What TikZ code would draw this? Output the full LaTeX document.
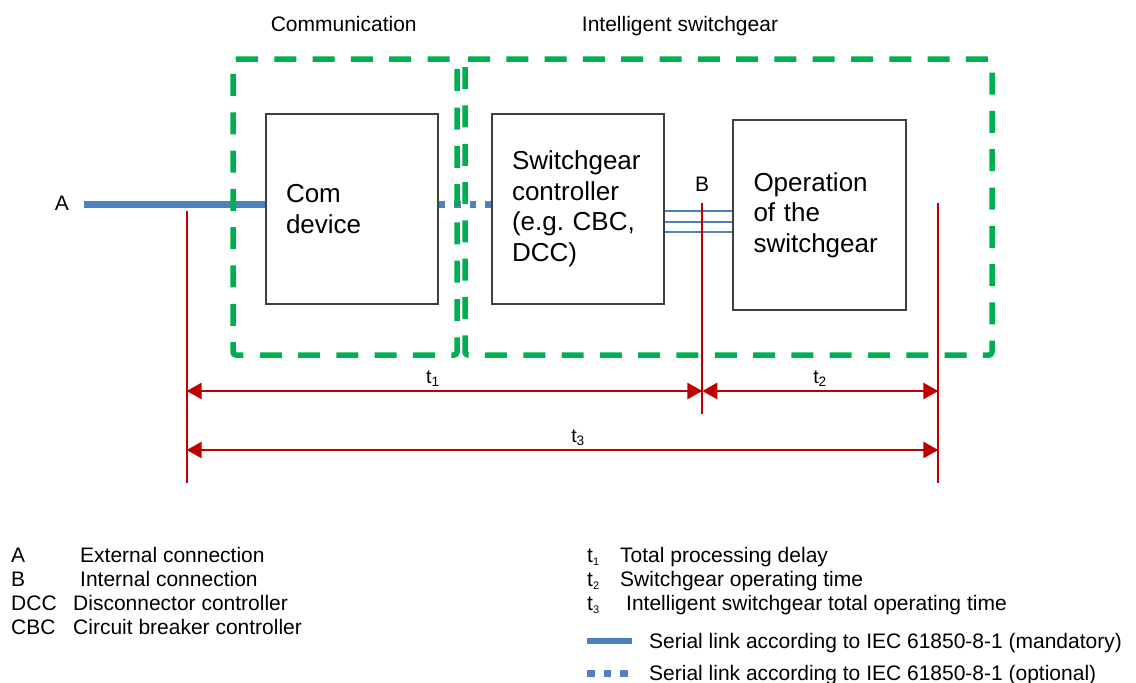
\documentclass[tikz,border=0pt]{standalone}
\usepackage{fontspec}
\setmainfont{Liberation Sans}
\usetikzlibrary{arrows.meta}
\definecolor{grn}{HTML}{00B050}
\definecolor{lblue}{HTML}{4F81BD}
\definecolor{dred}{HTML}{C00000}
\definecolor{boxgray}{HTML}{404040}
\frenchspacing
\newcommand{\lsub}[1]{\raisebox{-3pt}{\fontsize{11}{11}\selectfont #1}}
\begin{document}
\begin{tikzpicture}[x=1pt,y=-1pt,
  box/.style={draw=boxgray, line width=1.5pt, fill=white, minimum width=172pt, minimum height=190pt, text width=132pt, inner xsep=20pt, inner ysep=0pt, align=left, font=\fontsize{26}{30.5}\selectfont},
  grp/.style={draw=grn, line width=5.5pt, dash pattern=on 22pt off 16.3pt, rounded corners=3pt},
  lbl/.style={inner sep=0pt, anchor=base, font=\fontsize{21}{24}\selectfont},
  leg/.style={inner sep=0pt, anchor=base west, font=\fontsize{21}{24}\selectfont},
  tlbl/.style={inner sep=0pt, anchor=base, font=\fontsize{19.5}{22}\selectfont},
  mandlink/.style={draw=lblue, line width=7pt},
  optlink/.style={draw=lblue, line width=7pt, dash pattern=on 6.5pt off 9pt},
  thinb/.style={draw=lblue, line width=2pt},
  redtick/.style={draw=dred, line width=1.8pt},
  dimarrow/.style={draw=dred, line width=2.8pt, {Triangle[length=15pt,width=16pt]}-{Triangle[length=15pt,width=16pt]}},
]
\useasboundingbox (0,0) rectangle (1136,683);

% top labels
\node[lbl] (commlbl) at (343.7,31.7) {Communication};
\node[lbl] (intlbl) at (680,31.7) {Intelligent switchgear};

% boxes
\node[box] (com) at (352,209) {Com\\device};
\node[box] (ctrl) at (578,209) {Switchgear\\controller\\(e.g. CBC,\\DCC)};
\node[box, minimum width=173pt] (op) at (819.5,215) {Operation\\of the\\switchgear};

% connection labels
\node[lbl] (lblA) at (62,210) {A};
\node[lbl] (lblB) at (702,191.7) {B};

% links
\coordinate (aend) at (84,204);
\draw[mandlink] (aend) -- (aend -| com.west);
\draw[optlink] (com.east |- aend) -- (ctrl.west |- aend);
\coordinate (b1) at (0,210.7);
\coordinate (b2) at (0,222.3);
\coordinate (b3) at (0,232.3);
\draw[thinb] (ctrl.east |- b1) -- (op.west |- b1);
\draw[thinb] (ctrl.east |- b2) -- (op.west |- b2);
\draw[thinb] (ctrl.east |- b3) -- (op.west |- b3);

% group frames
\draw[grp] (233,59) -- (457,59) -- (457,355) -- (233,355) -- cycle;
\draw[grp] (465,59) -- (992,59) -- (992,355) -- (465,355) -- cycle;

% timing ticks
\coordinate (l1) at (186.7,211);
\coordinate (l2) at (186.7,483);
\coordinate (m1) at (702.3,203);
\coordinate (m2) at (702.3,414);
\coordinate (r1) at (938.3,203);
\coordinate (r2) at (938.3,483);
\draw[redtick] (l1) -- (l2);
\draw[redtick] (m1) -- (m2);
\draw[redtick] (r1) -- (r2);

\coordinate (ya) at (0,391);
\coordinate (yb) at (0,450);
\draw[dimarrow] (l1 |- ya) -- (m1 |- ya);
\draw[dimarrow] (m1 |- ya) -- (r1 |- ya);
\draw[dimarrow] (l1 |- yb) -- (r1 |- yb);
\node[tlbl] (t1) at (433,383.5) {t\textsubscript{1}};
\node[tlbl] (t2) at (820,383.5) {t\textsubscript{2}};
\node[tlbl] (t3) at (578,442.5) {t\textsubscript{3}};

% legend left
\node[leg] (kA) at (11,562.5) {A};
\node[leg] (vA) at (80,562.5) {External connection};
\node[leg] (kB) at (11,586.5) {B};
\node[leg] (vB) at (80,586.5) {Internal connection};
\node[leg] (kD) at (11,610.5) {DCC};
\node[leg] (vD) at (73,610.5) {Disconnector controller};
\node[leg] (kC) at (11,634.5) {CBC};
\node[leg] (vC) at (73,634.5) {Circuit breaker controller};

% legend right
\node[leg] (k1) at (587,562.5) {t\lsub{1}};
\node[leg] (v1) at (620,562.5) {Total processing delay};
\node[leg] (k2) at (587,586.5) {t\lsub{2}};
\node[leg] (v2) at (620,586.5) {Switchgear operating time};
\node[leg] (k3) at (587,610.5) {t\lsub{3}};
\node[leg] (v3) at (626,610.5) {Intelligent switchgear total operating time};

\coordinate (ms) at (587,641);
\coordinate (me) at (632,641);
\draw[mandlink, line width=6.5pt] (ms) -- (me);
\node[leg] (vm) at (649,648.5) {Serial link according to IEC 61850-8-1 (mandatory)};
\coordinate (os) at (587,673);
\coordinate (oe) at (628,673);
\draw[optlink, dash pattern=on 7.5pt off 9pt] (os) -- (oe);
\node[leg] (vo) at (649,680.5) {Serial link according to IEC 61850-8-1 (optional)};
\end{tikzpicture}
\end{document}
